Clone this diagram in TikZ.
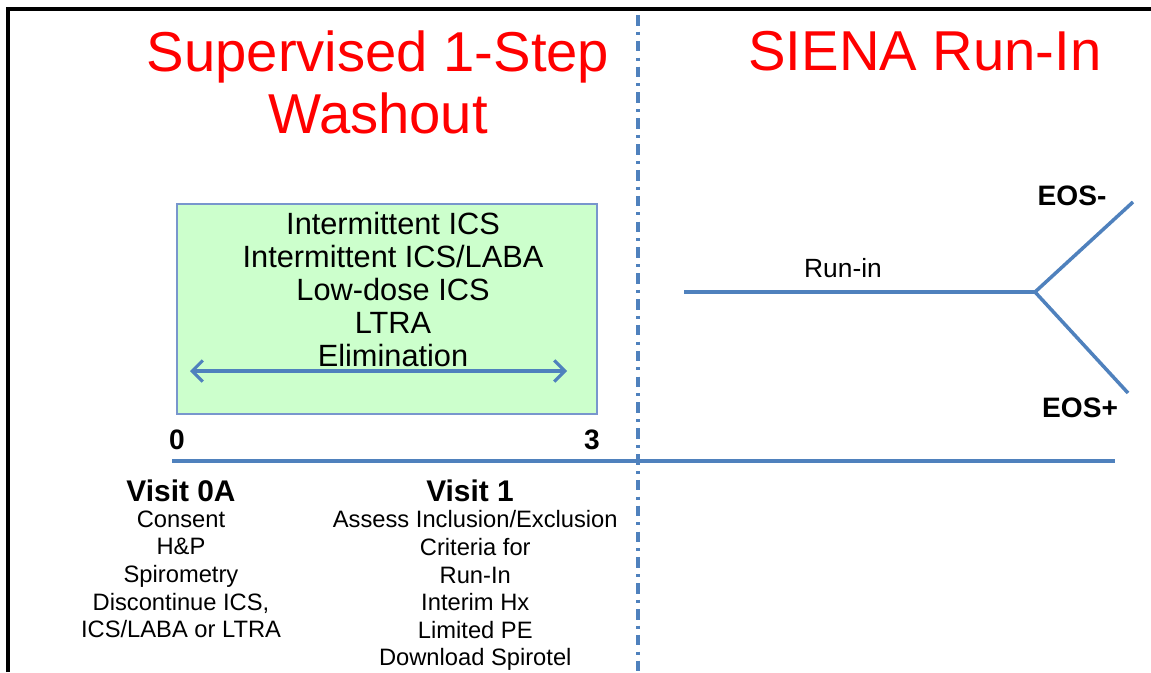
\documentclass[tikz,border=0pt]{standalone}
\usepackage{fontspec}
\setmainfont{Liberation Sans}
\usetikzlibrary{positioning,arrows.meta}
\definecolor{lineblue}{RGB}{79,129,189}
\definecolor{boxgreen}{RGB}{204,255,204}
\definecolor{boxedge}{RGB}{120,150,205}

\begin{document}
\begin{tikzpicture}[x=0.02cm,y=-0.02cm,
  heading/.style={text=red,font=\fontsize{32}{35.7}\selectfont,align=center,inner sep=0pt},
  boxtext/.style={font=\fontsize{17.5}{18.7}\selectfont,align=center,inner sep=0pt},
  visithead/.style={font=\bfseries\fontsize{17}{19}\selectfont,inner sep=0pt},
  visitbody/.style={font=\fontsize{13.5}{15.7}\selectfont,align=center,inner sep=0pt},
  marker/.style={font=\bfseries\fontsize{16}{18}\selectfont,inner sep=0pt},
  bluewire/.style={lineblue,line width=2pt},
  node distance=6pt]
\useasboundingbox (0,0) rectangle (1151,672);
% frame (only top and left edge show)
\draw[line width=2.3pt] (8,672) -- (8,9) -- (1151,9);
% divider
\draw[lineblue,line width=2.2pt,dash pattern=on 6pt off 3.5pt on 1.7pt off 3.5pt] (638,15) -- (638,672);

\node[heading,anchor=north] (washout) at (378,30) {Supervised 1-Step\\Washout};
\node[heading,anchor=north] (siena) at (925,31) {SIENA Run-In};

% washout box
\draw[boxedge,fill=boxgreen,line width=0.9pt] (177,204) rectangle (597,414);
\node[boxtext,anchor=north] (options) at (393,212)
  {Intermittent ICS\\Intermittent ICS/LABA\\Low-dose ICS\\LTRA\\Elimination};
\coordinate (elimL) at (190,371);
\coordinate (elimR) at (567,371);
\draw[lineblue,line width=1.8pt,{Straight Barb[length=6pt,width=12pt]}-{Straight Barb[length=6pt,width=12pt]}] (elimL) -- (elimR);

% timeline
\coordinate (t0) at (172,461);
\coordinate (tend) at (1115,461);
\draw[bluewire,line width=2.2pt] (t0) -- (tend);
\node[marker,anchor=base] (zero) at (177,449) {0};
\node[marker,anchor=base] (three) at (592,449) {3};

% run-in and split
\coordinate (runstart) at (684,292);
\coordinate (fork) at (1035,292);
\coordinate (eosmtip) at (1133,202);
\coordinate (eosptip) at (1128,393);
\draw[bluewire] (runstart) -- (fork) -- (eosmtip);
\draw[bluewire] (fork) -- (eosptip);
\node[anchor=base,font=\fontsize{15}{17}\selectfont,inner sep=0pt] (runin) at (843,277) {Run-in};
\node[marker,anchor=base] (eosminus) at (1072,205) {EOS-};
\node[marker,anchor=base] (eosplus) at (1080,417) {EOS+};

% visits
\node[visithead,anchor=base] (visit0a) at (181,501) {Visit 0A};
\node[visitbody,below=5pt of visit0a] (visit0abody)
  {Consent\\H\&P\\Spirometry\\Discontinue ICS,\\ICS/LABA or LTRA};
\node[visithead,anchor=base] (visit1) at (470,501) {Visit 1};
\node[visitbody,below=5pt of visit1,xshift=3pt] (visit1body)
  {Assess Inclusion/Exclusion\\Criteria for\\Run-In\\Interim Hx\\Limited PE\\Download Spirotel};
\end{tikzpicture}
\end{document}
